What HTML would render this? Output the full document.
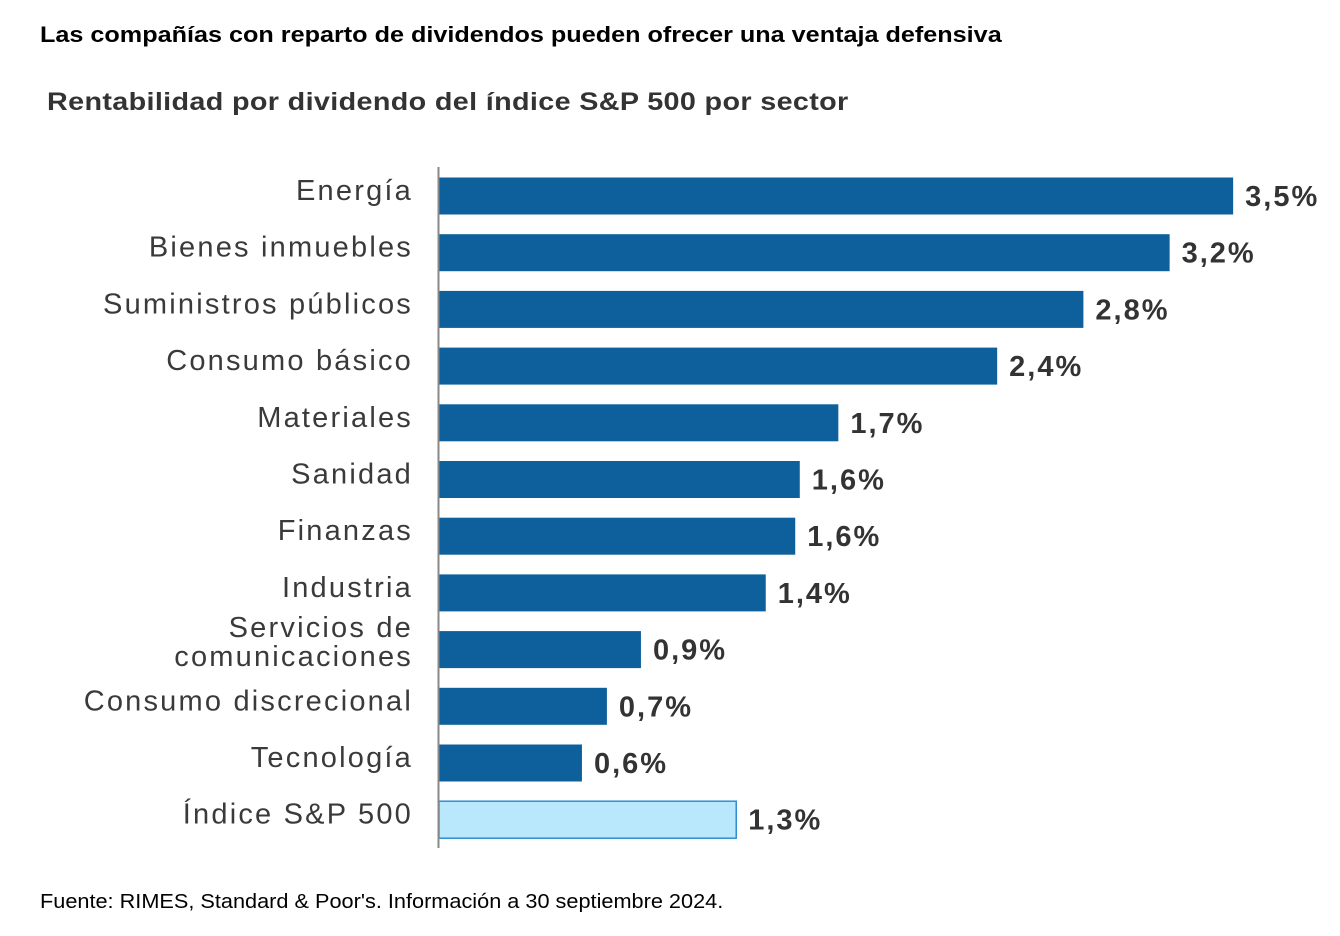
<!DOCTYPE html>
<html><head><meta charset="utf-8">
<style>
body{margin:0;background:#fff;width:1340px;height:936px;overflow:hidden;font-family:"Liberation Sans",sans-serif;}
#title{position:absolute;left:40px;top:22px;font-size:22px;font-weight:bold;color:#000;transform:scaleX(1.145);transform-origin:left top;white-space:nowrap;}
#subtitle{position:absolute;left:47px;top:88px;font-size:25px;font-weight:bold;color:#333;transform:scaleX(1.15);transform-origin:left top;white-space:nowrap;letter-spacing:0.3px;}
#foot{position:absolute;left:40px;top:891px;font-size:20px;color:#000;transform:scaleX(1.085);transform-origin:left top;white-space:nowrap;}
svg{position:absolute;left:0;top:0;}
</style></head><body>
<div id="title">Las compañías con reparto de dividendos pueden ofrecer una ventaja defensiva</div>
<div id="subtitle">Rentabilidad por dividendo del índice S&amp;P 500 por sector</div>
<div id="foot">Fuente: RIMES, Standard &amp; Poor's. Información a 30 septiembre 2024.</div>
<svg id="chart" width="1340" height="936"></svg>
<script>
const categories=["Energía","Bienes inmuebles","Suministros públicos","Consumo básico","Materiales","Sanidad","Finanzas","Industria","Servicios de|comunicaciones","Consumo discrecional","Tecnología","Índice S&P 500"];
const values=[3.5,3.22,2.84,2.46,1.76,1.59,1.57,1.44,0.89,0.74,0.63,1.31];
const valueLabels=["3,5%","3,2%","2,8%","2,4%","1,7%","1,6%","1,6%","1,4%","0,9%","0,7%","0,6%","1,3%"];
const NS="http://www.w3.org/2000/svg";
const svg=document.getElementById('chart');
const x0=439, pxPerUnit=226.9;
const xScale=v=>x0+v*pxPerUnit;
const yCenter=i=>196+i*56.7;
const barH=37;
function mk(tag,attrs){const e=document.createElementNS(NS,tag);for(const k in attrs)e.setAttribute(k,attrs[k]);svg.appendChild(e);return e;}
categories.forEach((c,i)=>{
  const last=i===categories.length-1;
  const r=mk('rect',{x:x0,y:yCenter(i)-barH/2,width:xScale(values[i])-x0,height:barH,fill:last?'#b9e7fb':'#0d609c',stroke:last?'#2e8fd0':'none','stroke-width':last?1.5:0});
  
  
  const lines=c.split('|');
  lines.forEach((ln,j)=>{
    const t=mk('text',{x:413,y:yCenter(i)+8+(lines.length>1?(j-0.5)*29-6:-4),'text-anchor':'end','font-size':29,'letter-spacing':'2.2px',fill:'#3a3a3a','font-family':'Liberation Sans, sans-serif'});
    t.textContent=ln;
    
    
  });
  const v=mk('text',{x:xScale(values[i])+12,y:yCenter(i)+10,'font-size':29,'font-weight':'bold','letter-spacing':'2px',fill:'#333','font-family':'Liberation Sans, sans-serif'});
  v.textContent=valueLabels[i];
  
  
});
const ax=mk('line',{x1:438.5,x2:438.5,y1:167,y2:848,stroke:'#888','stroke-width':2});


</script>
</body></html>
